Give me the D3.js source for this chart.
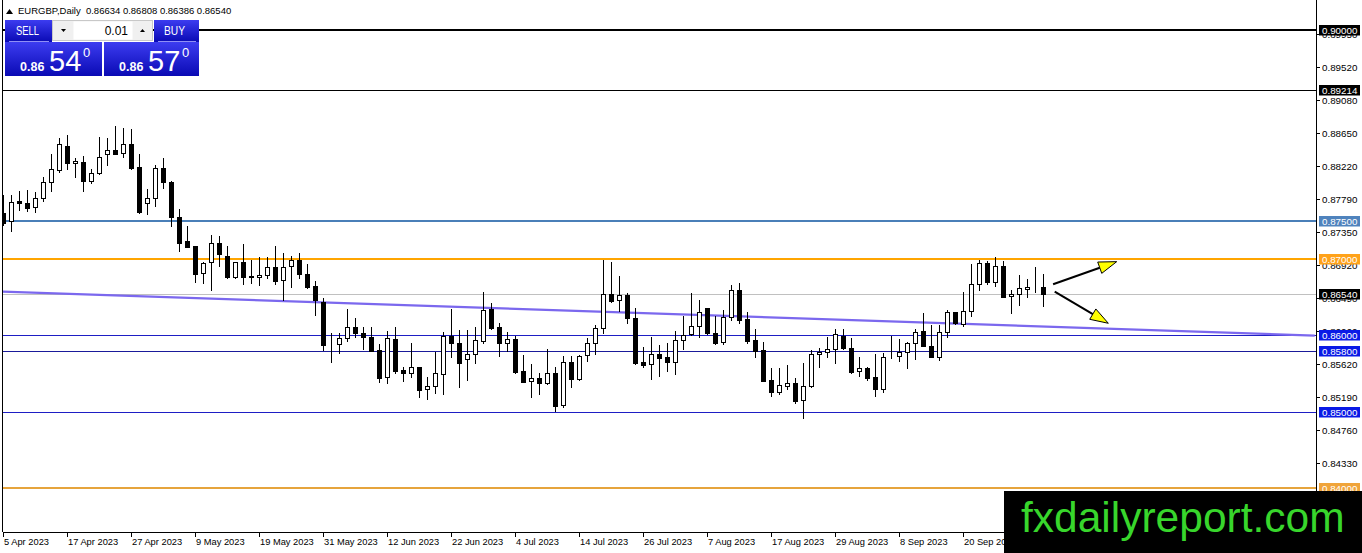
<!DOCTYPE html>
<html>
<head>
<meta charset="utf-8">
<script src="https://cdn.jsdelivr.net/npm/d3@7/dist/d3.min.js"></script>
<style>
  body { margin: 0; background: #fff; }
  svg { display: block; font-family: "Liberation Sans", Arial, sans-serif; }
</style>
</head>
<body>
<svg id="chart" width="1362" height="553"></svg>
<script>

// EURGBP daily bars, 5 Apr 2023 .. 4 Oct 2023
let opens = [
  0.87598, 0.87498, 0.87760, 0.87729, 0.87677, 0.87795, 0.88005, 0.88166, 0.88480, 0.88253,
  0.88266, 0.88026, 0.88122, 0.88371, 0.88424, 0.88384, 0.88507, 0.88201, 0.87738, 0.87795,
  0.88188, 0.88009, 0.87555, 0.87236, 0.87170, 0.86812, 0.86956, 0.87214, 0.87039, 0.86760,
  0.86956, 0.86777, 0.86760, 0.86786, 0.86900, 0.86725, 0.86908, 0.86987, 0.86799, 0.86647,
  0.86441, 0.85882, 0.85882, 0.85961, 0.86105, 0.86026, 0.85974, 0.85808, 0.85459, 0.85948,
  0.85546, 0.85502, 0.85581, 0.85293, 0.85336, 0.85494, 0.85991, 0.85904, 0.85686, 0.85756,
  0.85930, 0.86341, 0.86105, 0.85904, 0.85948, 0.85533, 0.85402, 0.85437, 0.85371, 0.85502,
  0.85087, 0.85655, 0.85424, 0.85742, 0.85904, 0.86092, 0.86537, 0.86463, 0.86528, 0.86223,
  0.85646, 0.85625, 0.85751, 0.85712, 0.85646, 0.85939, 0.86013, 0.86122, 0.86354, 0.86026,
  0.85908, 0.86245, 0.86594, 0.86210, 0.85939, 0.85808, 0.85415, 0.85253, 0.85336, 0.85371,
  0.85153, 0.85336, 0.85751, 0.85786, 0.85817, 0.85996, 0.85830, 0.85537, 0.85568, 0.85450,
  0.85293, 0.85721, 0.85729, 0.85786, 0.85895, 0.86057, 0.85865, 0.85721, 0.86048, 0.86301,
  0.86144, 0.86323, 0.86673, 0.86943, 0.86703, 0.86913, 0.86515, 0.86542, 0.86603, 0.86638,
  0.86634
];
let highs = [
  0.87838, 0.87838, 0.87891, 0.87899, 0.87882, 0.88079, 0.88371, 0.88581, 0.88624, 0.88328,
  0.88354, 0.88179, 0.88594, 0.88581, 0.88742, 0.88712, 0.88703, 0.88371, 0.87917, 0.88231,
  0.88328, 0.88018, 0.87651, 0.87437, 0.87175, 0.86965, 0.87319, 0.87306, 0.87170, 0.86960,
  0.87192, 0.86987, 0.87031, 0.87031, 0.87170, 0.87074, 0.87044, 0.87074, 0.86930, 0.86712,
  0.86485, 0.86026, 0.86026, 0.86341, 0.86223, 0.86105, 0.86114, 0.85882, 0.86057, 0.86105,
  0.85590, 0.85895, 0.85590, 0.85459, 0.85786, 0.86048, 0.86341, 0.86070, 0.86070, 0.86114,
  0.86563, 0.86419, 0.86157, 0.86044, 0.85991, 0.85742, 0.85625, 0.85511, 0.85825, 0.85590,
  0.85729, 0.85729, 0.85738, 0.85961, 0.86135, 0.86987, 0.86956, 0.86777, 0.86550, 0.86354,
  0.85843, 0.85974, 0.85873, 0.85904, 0.86057, 0.86258, 0.86550, 0.86463, 0.86363, 0.86253,
  0.86332, 0.86659, 0.86681, 0.86310, 0.86083, 0.85908, 0.85568, 0.85568, 0.85611, 0.85446,
  0.85633, 0.85808, 0.85830, 0.85974, 0.86079, 0.86083, 0.85961, 0.85712, 0.85590, 0.85756,
  0.85764, 0.85991, 0.85948, 0.85917, 0.86079, 0.86297, 0.86135, 0.86135, 0.86332, 0.86310,
  0.86572, 0.86935, 0.86987, 0.86978, 0.87031, 0.86978, 0.86594, 0.86790, 0.86734, 0.86891,
  0.86808
];
let lows = [
  0.87446, 0.87372, 0.87642, 0.87629, 0.87611, 0.87764, 0.87891, 0.88140, 0.88179, 0.88079,
  0.87895, 0.88000, 0.88114, 0.88231, 0.88371, 0.88336, 0.88183, 0.87607, 0.87585, 0.87699,
  0.87934, 0.87437, 0.87109, 0.87155, 0.86694, 0.86690, 0.86594, 0.86912, 0.86747, 0.86756,
  0.86677, 0.86681, 0.86659, 0.86756, 0.86672, 0.86463, 0.86638, 0.86747, 0.86624, 0.86266,
  0.85808, 0.85655, 0.85764, 0.85930, 0.85983, 0.85817, 0.85795, 0.85393, 0.85371, 0.85511,
  0.85402, 0.85459, 0.85197, 0.85162, 0.85249, 0.85227, 0.85721, 0.85328, 0.85415, 0.85633,
  0.85904, 0.86083, 0.85729, 0.85795, 0.85511, 0.85388, 0.85188, 0.85232, 0.85366, 0.85013,
  0.85057, 0.85328, 0.85415, 0.85668, 0.85756, 0.86035, 0.86441, 0.86323, 0.86166, 0.85625,
  0.85590, 0.85424, 0.85467, 0.85537, 0.85489, 0.85821, 0.86004, 0.85983, 0.86013, 0.85886,
  0.85882, 0.86201, 0.86157, 0.85904, 0.85721, 0.85400, 0.85210, 0.85227, 0.85293, 0.85118,
  0.84922, 0.85328, 0.85581, 0.85721, 0.85633, 0.85817, 0.85511, 0.85467, 0.85415, 0.85210,
  0.85262, 0.85699, 0.85668, 0.85568, 0.85686, 0.85860, 0.85712, 0.85677, 0.85974, 0.86148,
  0.86122, 0.86253, 0.86594, 0.86673, 0.86651, 0.86498, 0.86288, 0.86397, 0.86507, 0.86572,
  0.86386
];
let closes = [
  0.87468, 0.87751, 0.87729, 0.87672, 0.87795, 0.88009, 0.88175, 0.88502, 0.88253, 0.88284,
  0.88026, 0.88122, 0.88332, 0.88424, 0.88376, 0.88507, 0.88197, 0.87620, 0.87795, 0.88188,
  0.88005, 0.87555, 0.87205, 0.87162, 0.86803, 0.86943, 0.87205, 0.87061, 0.86760, 0.86956,
  0.86760, 0.86769, 0.86786, 0.86900, 0.86716, 0.86900, 0.86987, 0.86799, 0.86638, 0.86463,
  0.85873, 0.85886, 0.85961, 0.86105, 0.86026, 0.85974, 0.85799, 0.85446, 0.85961, 0.85537,
  0.85502, 0.85581, 0.85284, 0.85336, 0.85502, 0.85991, 0.85904, 0.85633, 0.85756, 0.85939,
  0.86332, 0.86101, 0.85895, 0.85948, 0.85524, 0.85393, 0.85437, 0.85371, 0.85502, 0.85079,
  0.85655, 0.85424, 0.85729, 0.85904, 0.86092, 0.86537, 0.86454, 0.86528, 0.86223, 0.85633,
  0.85616, 0.85751, 0.85699, 0.85646, 0.85939, 0.86004, 0.86122, 0.86301, 0.86026, 0.85904,
  0.86245, 0.86594, 0.86201, 0.85930, 0.85795, 0.85406, 0.85262, 0.85349, 0.85371, 0.85140,
  0.85336, 0.85751, 0.85786, 0.85817, 0.86013, 0.85830, 0.85524, 0.85568, 0.85446, 0.85293,
  0.85721, 0.85716, 0.85786, 0.85895, 0.86039, 0.85865, 0.85721, 0.86048, 0.86301, 0.86157,
  0.86323, 0.86668, 0.86943, 0.86703, 0.86913, 0.86507, 0.86542, 0.86616, 0.86638, 0.86629,
  0.86540
];

// horizontal levels drawn on the chart
let levelPrices = [0.90000, 0.89214, 0.87500, 0.87000, 0.86000, 0.85800, 0.85000, 0.84000];

// price scale labels
let priceTicks = [0.89950, 0.89520, 0.89080, 0.88650, 0.88220, 0.87790, 0.87350, 0.86920,
  0.86490, 0.86060, 0.85620, 0.85190, 0.84760, 0.84330];

// time scale labels
let dateTicks = ["5 Apr 2023", "17 Apr 2023", "27 Apr 2023", "9 May 2023", "19 May 2023",
  "31 May 2023", "12 Jun 2023", "22 Jun 2023", "4 Jul 2023", "14 Jul 2023", "26 Jul 2023",
  "7 Aug 2023", "17 Aug 2023", "29 Aug 2023", "8 Sep 2023", "20 Sep 2023"];

// trend line anchors (bar number, price)
let trendBars = [0, 164];
let trendPrices = [0.86572, 0.85996];

// the two yellow arrows (from, to)
let arrowBars = [[131.3, 139.25], [131.5, 138.2]];
let arrowPrices = [[0.86669, 0.86965], [0.86572, 0.86158]];

let askPrice = 0.86570;

// ---------------------------------------------------------------

let svg = d3.select("#chart");
let f5 = d3.format(".5f");
let fmtDate = d3.timeFormat("%-d %b %Y");

let plotLeft = 2.5, plotRight = 1316, plotBottom = 532;

// weekday bars
let barDates = d3.timeDays(new Date(2023, 3, 5), new Date(2023, 9, 5))
  .filter(d => d.getDay() != 0 && d.getDay() != 6);

let bars = barDates.map((d, i) => ({ i: i, date: d, o: opens[i], h: highs[i], l: lows[i], c: closes[i] }));

let x = d3.scaleLinear().domain([0, 164]).range([2.7, 1314.7]);
let y = d3.scaleLinear().domain([0.84, 0.90]).range([488, 30]);

svg.append("rect").attr("width", 1362).attr("height", 553).attr("fill", "#fff");

let defs = svg.append("defs");
defs.append("clipPath").attr("id", "plotClip")
  .append("rect")
  .attr("x", plotLeft).attr("y", 0)
  .attr("width", plotRight - plotLeft).attr("height", plotBottom);

let grad = defs.append("linearGradient").attr("id", "blueGrad")
  .attr("x1", 0).attr("y1", 0).attr("x2", 0).attr("y2", 1);
grad.append("stop").attr("offset", "0%").attr("stop-color", "#3c3cf0");
grad.append("stop").attr("offset", "100%").attr("stop-color", "#0a0ab4");

let plot = svg.append("g").attr("clip-path", "url(#plotClip)");

// level lines
let levelStyle = {
  "0.90000": { color: "#000", width: 2, box: "#000" },
  "0.89214": { color: "#000", width: 1, box: "#000" },
  "0.87500": { color: "#4a7fb8", width: 2, box: "#4f83bd" },
  "0.87000": { color: "#ffa500", width: 2, box: "#ffa21a" },
  "0.86000": { color: "#1e1ec4", width: 1, box: "#0a1ae6" },
  "0.85800": { color: "#1a1a9a", width: 1, box: "#0a1ae6" },
  "0.85000": { color: "#1e1ec4", width: 1, box: "#0a1ae6" },
  "0.84000": { color: "#e6a43c", width: 2, box: "#f0a43a" }
};

plot.selectAll(".level")
  .data(levelPrices)
  .enter()
  .append("line")
  .attr("class", "level")
  .attr("x1", plotLeft).attr("x2", plotRight)
  .attr("y1", d => Math.round(y(d)) + (levelStyle[f5(d)].width == 1 ? 0.5 : 0))
  .attr("y2", d => Math.round(y(d)) + (levelStyle[f5(d)].width == 1 ? 0.5 : 0))
  .attr("stroke", d => levelStyle[f5(d)].color)
  .attr("stroke-width", d => levelStyle[f5(d)].width);

// bid line
let last = bars[bars.length - 1];
plot.append("line")
  .attr("x1", plotLeft).attr("x2", plotRight)
  .attr("y1", Math.round(y(last.c)) + 0.5).attr("y2", Math.round(y(last.c)) + 0.5)
  .attr("stroke", "#c0c0c0");

// trend line
plot.append("path")
  .datum(trendBars.map((b, k) => [b, trendPrices[k]]))
  .attr("d", d3.line().x(d => x(d[0])).y(d => y(d[1])))
  .attr("fill", "none")
  .attr("stroke", "#7b68ee")
  .attr("stroke-width", 2.2);

// candles
let px = i => Math.round(x(i));
let candles = plot.selectAll(".bar")
  .data(bars)
  .enter()
  .append("g")
  .attr("class", "bar")
  .attr("shape-rendering", "crispEdges");

candles.append("line")
  .attr("x1", d => px(d.i) + 0.5).attr("x2", d => px(d.i) + 0.5)
  .attr("y1", d => Math.round(y(d.h))).attr("y2", d => Math.round(y(d.l)) + 1)
  .attr("stroke", "#000");

candles.append("rect")
  .attr("x", d => px(d.i) - 1.5)
  .attr("y", d => Math.round(y(Math.max(d.o, d.c))) + 0.5)
  .attr("width", 4)
  .attr("height", d => Math.max(0, Math.round(y(Math.min(d.o, d.c))) - Math.round(y(Math.max(d.o, d.c)))))
  .attr("fill", d => d.c < d.o ? "#000" : "#fff")
  .attr("stroke", "#000");

// arrows
arrowBars.forEach((ab, k) => {
  let x1 = x(ab[0]), y1 = y(arrowPrices[k][0]);
  let x2 = x(ab[1]), y2 = y(arrowPrices[k][1]);
  let len = Math.hypot(x2 - x1, y2 - y1);
  let ux = (x2 - x1) / len, uy = (y2 - y1) / len;
  let head = 18, half = 6;
  let bx = x2 - ux * head, by = y2 - uy * head;
  svg.append("line")
    .attr("x1", x1).attr("y1", y1).attr("x2", bx).attr("y2", by)
    .attr("stroke", "#000").attr("stroke-width", 2);
  svg.append("path")
    .attr("d", "M" + x2 + "," + y2 + "L" + (bx - uy * half) + "," + (by + ux * half) +
      "L" + (bx + uy * half) + "," + (by - ux * half) + "Z")
    .attr("fill", "#ffff00")
    .attr("stroke", "#000")
    .attr("stroke-width", 1);
});

// frame
svg.append("g").attr("shape-rendering", "crispEdges").call(g => {
  g.append("line").attr("x1", plotLeft).attr("x2", plotLeft).attr("y1", 0).attr("y2", plotBottom).attr("stroke", "#000");
  g.append("line").attr("x1", plotRight + 0.5).attr("x2", plotRight + 0.5).attr("y1", 0).attr("y2", plotBottom).attr("stroke", "#000");
  g.append("line").attr("x1", plotLeft).attr("x2", 1362).attr("y1", plotBottom + 0.5).attr("y2", plotBottom + 0.5).attr("stroke", "#000");
});

// price scale
let yAxis = svg.append("g").attr("class", "y-axis");
yAxis.selectAll("line")
  .data(priceTicks)
  .enter()
  .append("line")
  .attr("x1", plotRight).attr("x2", plotRight + 4)
  .attr("y1", d => Math.round(y(d)) + 0.5).attr("y2", d => Math.round(y(d)) + 0.5)
  .attr("stroke", "#000")
  .attr("shape-rendering", "crispEdges");
yAxis.selectAll("text")
  .data(priceTicks)
  .enter()
  .append("text")
  .attr("x", plotRight + 6)
  .attr("y", d => y(d) + 4)
  .attr("font-size", "9.8px")
  .attr("fill", "#000")
  .text(d => f5(d));

// level price boxes on the scale (bid too)
let boxes = levelPrices.map(p => ({ p: p, box: levelStyle[f5(p)].box }));
boxes.push({ p: last.c, box: "#000" });
let boxG = svg.selectAll(".pbox")
  .data(boxes)
  .enter()
  .append("g")
  .attr("class", "pbox");
boxG.append("rect")
  .attr("x", plotRight + 3)
  .attr("y", d => Math.round(y(d.p)) - 5)
  .attr("width", 41)
  .attr("height", 10.5)
  .attr("fill", d => d.box);
boxG.append("text")
  .attr("x", plotRight + 6)
  .attr("y", d => y(d.p) + 4)
  .attr("font-size", "9.8px")
  .attr("fill", "#fff")
  .text(d => f5(d.p));

// time scale
let xAxis = svg.append("g").attr("class", "x-axis");
let tickIdx = dateTicks.map(t => barDates.findIndex(d => fmtDate(d) == t));
xAxis.selectAll("line")
  .data(tickIdx)
  .enter()
  .append("line")
  .attr("x1", d => px(d) + 0.5).attr("x2", d => px(d) + 0.5)
  .attr("y1", plotBottom).attr("y2", plotBottom + 5)
  .attr("stroke", "#000")
  .attr("shape-rendering", "crispEdges");
xAxis.selectAll("text")
  .data(tickIdx)
  .enter()
  .append("text")
  .attr("x", d => px(d) + 1)
  .attr("y", 544.5)
  .attr("font-size", "9.3px")
  .attr("fill", "#000")
  .text((d, k) => dateTicks[k]);

// header
svg.append("path").attr("d", "M6,14L9.5,9L13,14Z").attr("fill", "#000");
svg.append("text")
  .attr("x", 18).attr("y", 14)
  .attr("font-size", "9.5px")
  .style("white-space", "pre")
  .text("EURGBP,Daily  " + [last.o, last.h, last.l, last.c].map(f5).join(" "));

// one click trading panel
let panel = svg.append("g").attr("class", "trade-panel");
panel.append("rect").attr("x", 5).attr("y", 20).attr("width", 47).attr("height", 22).attr("fill", "url(#blueGrad)");
panel.append("rect").attr("x", 154).attr("y", 20).attr("width", 45).attr("height", 22).attr("fill", "url(#blueGrad)");
panel.append("line").attr("x1", 9).attr("x2", 49).attr("y1", 41.5).attr("y2", 41.5).attr("stroke", "#8f8ff5");
panel.append("line").attr("x1", 158).attr("x2", 196).attr("y1", 41.5).attr("y2", 41.5).attr("stroke", "#8f8ff5");
panel.append("text").attr("x", 16).attr("y", 35).attr("font-size", "12.5px").attr("fill", "#fff")
  .attr("textLength", 23).attr("lengthAdjust", "spacingAndGlyphs").text("SELL");
panel.append("text").attr("x", 164).attr("y", 35).attr("font-size", "12.5px").attr("fill", "#fff")
  .attr("textLength", 21).attr("lengthAdjust", "spacingAndGlyphs").text("BUY");

// lot size box
panel.append("rect").attr("x", 52.5).attr("y", 20.5).attr("width", 100).attr("height", 20).attr("fill", "#f0f0f0").attr("stroke", "#c8c8c8");
panel.append("rect").attr("x", 73.5).attr("y", 21.5).attr("width", 59).attr("height", 18).attr("fill", "#fff");
panel.append("path").attr("d", "M61,29L66,29L63.5,32Z").attr("fill", "#000");
panel.append("path").attr("d", "M140,32L145,32L142.5,29Z").attr("fill", "#000");
panel.append("text").attr("x", 128).attr("y", 35).attr("text-anchor", "end").attr("font-size", "12px").text("0.01");

// bid / ask blocks
let quotes = [{ p: last.c, x: 5, w: 97 }, { p: askPrice, x: 104, w: 95 }];
quotes.forEach(q => {
  let s = f5(q.p);
  panel.append("rect").attr("x", q.x).attr("y", 42).attr("width", q.w).attr("height", 34).attr("fill", "url(#blueGrad)");
  panel.append("text").attr("x", q.x + 15).attr("y", 70.5).attr("font-size", "12.5px").attr("font-weight", "bold")
    .attr("fill", "#fff").text(s.slice(0, 4));
  panel.append("text").attr("x", q.x + 44).attr("y", 71).attr("font-size", "29px")
    .attr("fill", "#fff").text(s.slice(4, 6));
  panel.append("text").attr("x", q.x + 78).attr("y", 56.5).attr("font-size", "13px")
    .attr("fill", "#fff").text(s.slice(6));
});

// site watermark
svg.append("rect").attr("x", 1004).attr("y", 491).attr("width", 358).attr("height", 62).attr("fill", "#000");
svg.append("text")
  .attr("x", 1021).attr("y", 531.5)
  .attr("font-size", "42.5px")
  .attr("fill", "#38d62c")
  .text("fxdailyreport.com");

</script>
</body>
</html>
